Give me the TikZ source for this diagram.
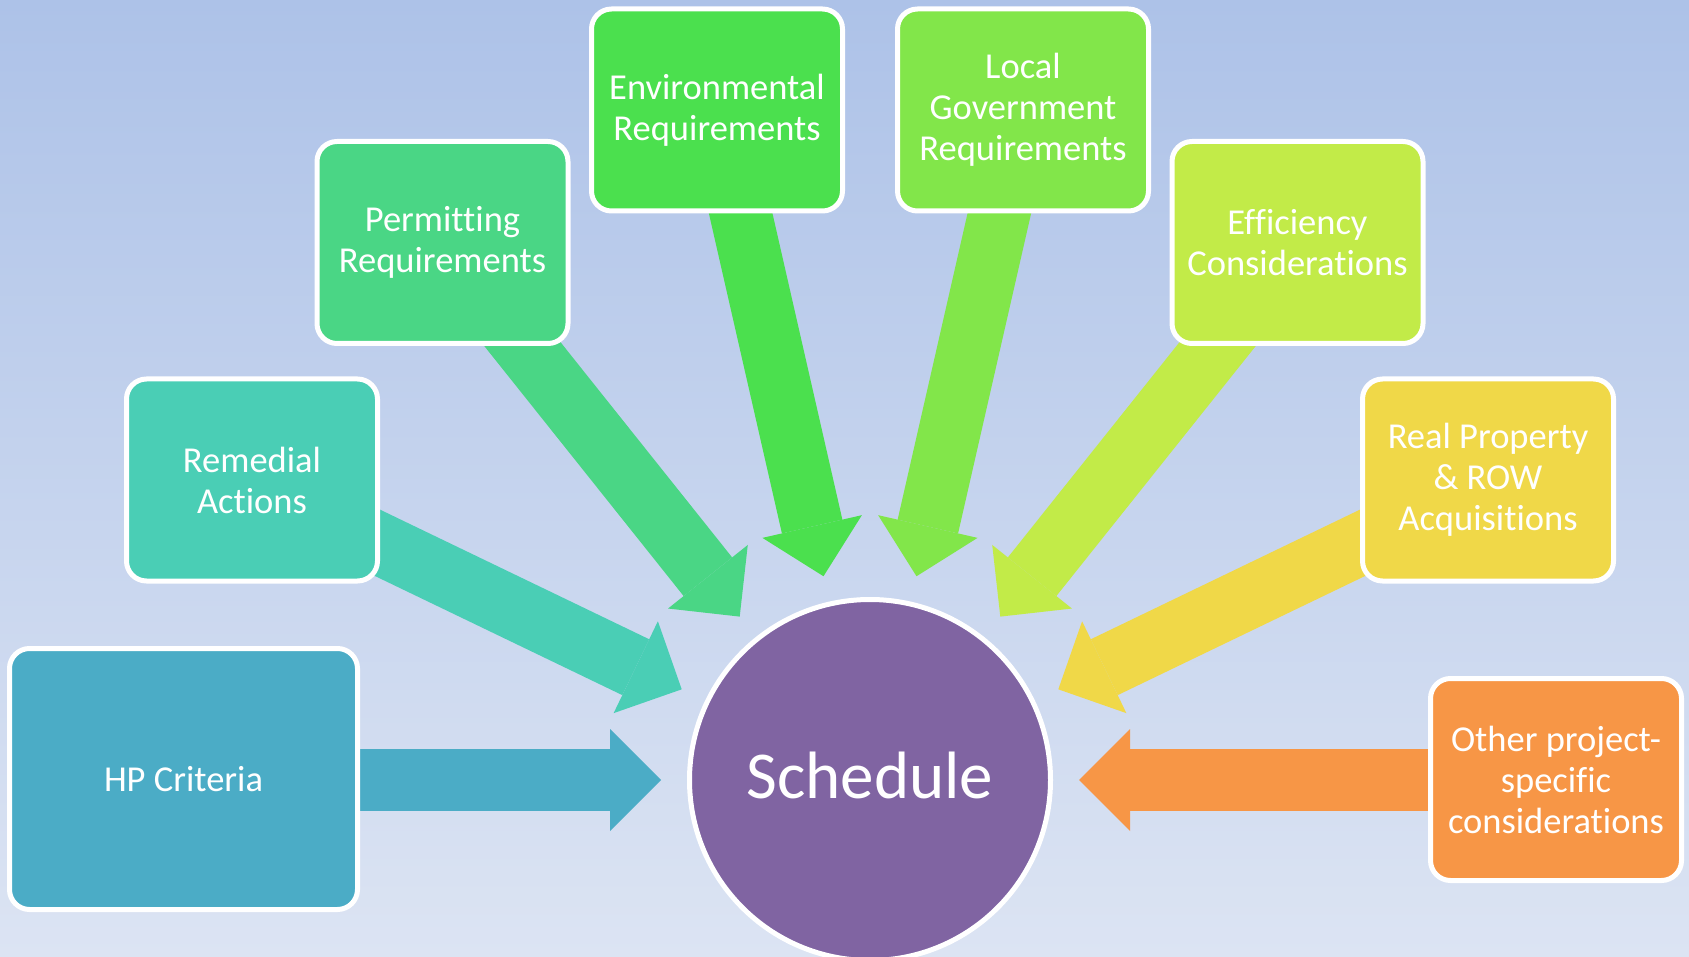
\documentclass[tikz,border=0pt]{standalone}
\usepackage{fontspec}
\setmainfont{Carlito}[Ligatures=CommonOff]
\usetikzlibrary{arrows.meta}
\definecolor{bgtop}{HTML}{ADC2E8}
\definecolor{bgbot}{HTML}{DCE4F3}
\definecolor{cHP}{HTML}{4BACC6}
\definecolor{cRem}{HTML}{4ACEB5}
\definecolor{cPer}{HTML}{4AD685}
\definecolor{cEnv}{HTML}{4BE04E}
\definecolor{cLoc}{HTML}{82E64A}
\definecolor{cEff}{HTML}{C2EB48}
\definecolor{cReal}{HTML}{F0D848}
\definecolor{cOth}{HTML}{F79646}
\definecolor{cSch}{HTML}{8064A2}
\pgfdeclarelayer{bgshade}
\pgfdeclarelayer{arrowlayer}
\pgfsetlayers{bgshade,arrowlayer,main}
\begin{document}
\begin{tikzpicture}[x=1pt,y=-1pt,
  factor/.style={rectangle, rounded corners=20pt, draw=white, line width=5pt,
    minimum width=251pt, minimum height=202pt, inner sep=0pt, outer sep=0pt,
    align=center, text=white, font=\fontsize{36.5}{41}\selectfont},
  hub/.style={circle, draw=white, line width=5pt, fill=cSch, minimum size=361pt,
    inner sep=0pt, outer sep=0pt, text=white, text height=36pt, text depth=0pt,
    font=\fontsize{67}{80}\selectfont},
  blockarrow/.style={line width=62pt, shorten >=209pt,
    -{Triangle[width=102pt,length=51pt,line width=0pt]}}
]
\useasboundingbox (0,0) rectangle (1689,957);
\begin{pgfonlayer}{bgshade}
  \shade[top color=bgtop, bottom color=bgbot] (0,0) rectangle (1689,957);
\end{pgfonlayer}

% hub
\node[hub] (sched) at (870,780) {Schedule};

% factor boxes
\node[factor, fill=cHP, minimum width=348pt, minimum height=261pt] (hp) at (183.5,779) {HP Criteria};
\node[factor, fill=cRem] (rem) at (252,480) {Remedial\\Actions};
\node[factor, fill=cPer] (per) at (442.5,242.5) {Permitting\\Requirements};
\node[factor, fill=cEnv] (env) at (717,110) {Environmental\\Requirements};
\node[factor, fill=cLoc] (loc) at (1023,110) {Local\\Government\\Requirements};
\node[factor, fill=cEff] (eff) at (1297.5,242.5) {Efficiency\\Considerations};
\node[factor, fill=cReal] (real) at (1488,480) {Real Property\\\& ROW\\Acquisitions};
\node[factor, fill=cOth] (oth) at (1556,779.5) {Other project-\\specific\\considerations};

% arrow start points (hidden under the boxes)
\coordinate (s0) at (270,780);
\coordinate (s1) at (329.42,519.67);
\coordinate (s2) at (495.91,310.90);
\coordinate (s3) at (736.49,195.04);
\coordinate (s4) at (1003.51,195.04);
\coordinate (s5) at (1244.09,310.90);
\coordinate (s6) at (1410.58,519.67);
\coordinate (s7) at (1470,780);

\begin{pgfonlayer}{arrowlayer}
  \draw[blockarrow, cHP]   (s0) -- (sched.center);
  \draw[blockarrow, cRem]  (s1) -- (sched.center);
  \draw[blockarrow, cPer]  (s2) -- (sched.center);
  \draw[blockarrow, cEnv]  (s3) -- (sched.center);
  \draw[blockarrow, cLoc]  (s4) -- (sched.center);
  \draw[blockarrow, cEff]  (s5) -- (sched.center);
  \draw[blockarrow, cReal] (s6) -- (sched.center);
  \draw[blockarrow, cOth]  (s7) -- (sched.center);
\end{pgfonlayer}
\end{tikzpicture}
\end{document}
